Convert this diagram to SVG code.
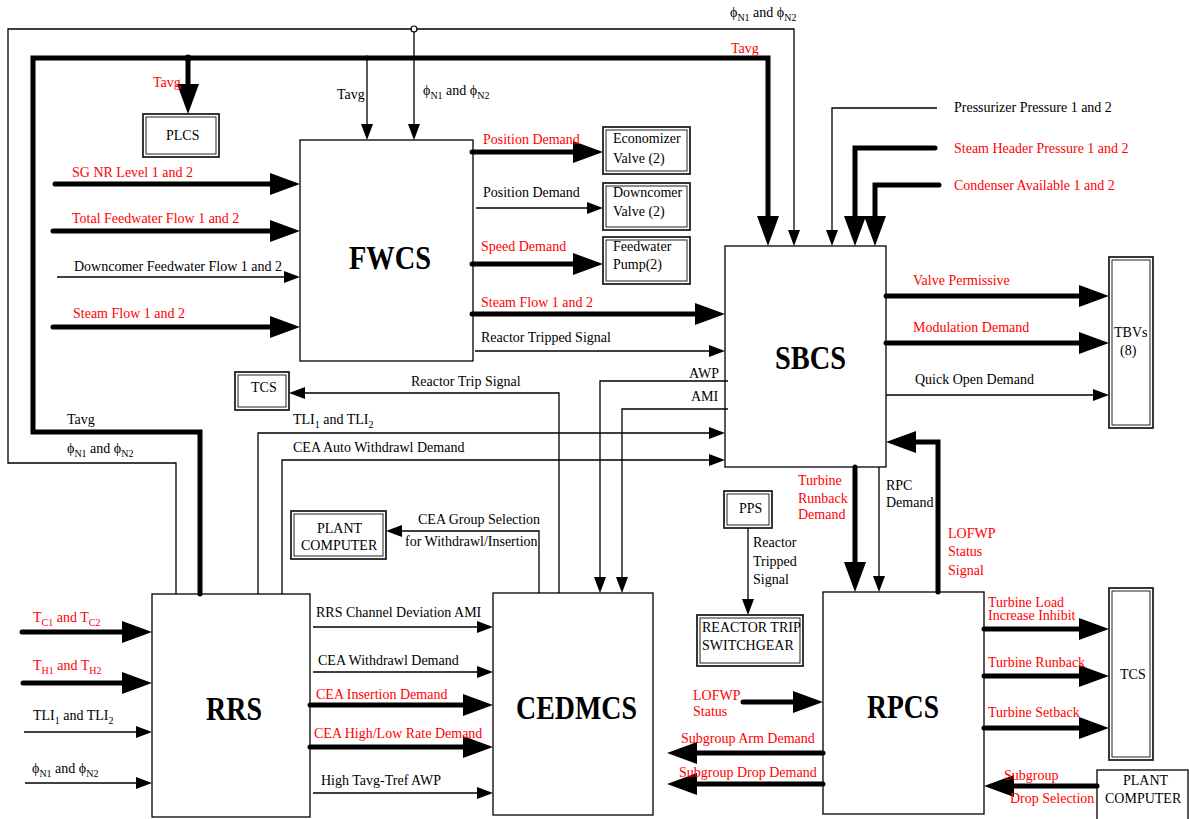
<svg xmlns="http://www.w3.org/2000/svg" width="1189" height="819" viewBox="0 0 1189 819">
<style>
.t{font-family:"Liberation Serif","Times New Roman",serif;font-size:14px;fill:#000}
.r{fill:#f00}
.big{font-family:"Liberation Serif","Times New Roman",serif;font-size:33px;font-weight:bold;fill:#000}
.s{font-size:10px}
.box{fill:#fff;stroke:#000;stroke-width:1.3}
.dbo{fill:#fff;stroke:#222;stroke-width:1.8}
.dbi{fill:none;stroke:#222;stroke-width:1}
.thin{fill:none;stroke:#000;stroke-width:1.3}
.thick{fill:none;stroke:#000;stroke-width:5;stroke-linecap:round}
</style>
<defs>
<marker id="ak" markerUnits="userSpaceOnUse" markerWidth="30" markerHeight="22" refX="12" refY="11" orient="auto" overflow="visible"><path d="M0,0 L30,11 L0,22 z" fill="#000"/></marker>
<marker id="an" markerUnits="userSpaceOnUse" markerWidth="16" markerHeight="12" refX="12" refY="6" orient="auto" overflow="visible"><path d="M0,0 L16,6 L0,12 z" fill="#000"/></marker>
</defs>
<rect width="1189" height="819" fill="#fff"/>

<g id="FWCS"><rect class="box" x="300" y="140" width="173" height="221"/><text class="big" x="349" y="269" textLength="82" lengthAdjust="spacingAndGlyphs">FWCS</text></g>
<g id="SBCS"><rect class="box" x="725" y="246" width="161" height="221"/><text class="big" x="775" y="369" textLength="71" lengthAdjust="spacingAndGlyphs">SBCS</text></g>
<g id="RRS"><rect class="box" x="152" y="594" width="158" height="223"/><text class="big" x="206" y="720" textLength="56" lengthAdjust="spacingAndGlyphs">RRS</text></g>
<g id="CEDMCS"><rect class="box" x="493" y="593" width="160" height="222"/><text class="big" x="516" y="719" textLength="121" lengthAdjust="spacingAndGlyphs">CEDMCS</text></g>
<g id="RPCS"><rect class="box" x="823" y="592" width="161" height="222"/><text class="big" x="867" y="718" textLength="72" lengthAdjust="spacingAndGlyphs">RPCS</text></g>

<g id="PLCS"><rect class="dbo" x="143" y="114" width="76" height="43"/><rect class="dbi" x="146" y="117" width="70" height="37"/><text class="t" x="166" y="140">PLCS</text></g>
<g id="EconomizerValve"><rect class="dbo" x="603" y="127" width="87" height="47"/><rect class="dbi" x="606" y="130" width="81" height="41"/><text class="t" x="613" y="143">Economizer</text><text class="t" x="613" y="163">Valve (2)</text></g>
<g id="DowncomerValve"><rect class="dbo" x="603" y="183" width="87" height="47"/><rect class="dbi" x="606" y="186" width="81" height="41"/><text class="t" x="613" y="197">Downcomer</text><text class="t" x="613" y="216">Valve (2)</text></g>
<g id="FeedwaterPump"><rect class="dbo" x="603" y="237" width="87" height="47"/><rect class="dbi" x="606" y="240" width="81" height="41"/><text class="t" x="613" y="251">Feedwater</text><text class="t" x="613" y="269">Pump(2)</text></g>
<g id="TCS1"><rect class="dbo" x="235" y="372" width="54" height="38"/><rect class="dbi" x="238" y="375" width="48" height="32"/><text class="t" x="251" y="392">TCS</text></g>
<g id="PlantComputer1"><rect class="dbo" x="291" y="511" width="95" height="48"/><rect class="dbi" x="294" y="514" width="89" height="42"/><text class="t" x="317" y="533">PLANT</text><text class="t" x="301" y="550">COMPUTER</text></g>
<g id="PPS"><rect class="dbo" x="724" y="491" width="48" height="37"/><rect class="dbi" x="727" y="494" width="42" height="31"/><text class="t" x="739" y="513">PPS</text></g>
<g id="ReactorTripSwitchgear"><rect class="dbo" x="697" y="615" width="106" height="51"/><rect class="dbi" x="700" y="618" width="100" height="45"/><text class="t" x="702" y="632">REACTOR TRIP</text><text class="t" x="702" y="650">SWITCHGEAR</text></g>
<g id="TBVs"><rect class="dbo" x="1109" y="257" width="44" height="171"/><rect class="dbi" x="1112" y="260" width="38" height="165"/><text class="t" x="1114" y="337">TBVs</text><text class="t" x="1120" y="355">(8)</text></g>
<g id="TCS2"><rect class="dbo" x="1109" y="588" width="44" height="172"/><rect class="dbi" x="1112" y="591" width="38" height="166"/><text class="t" x="1120" y="679">TCS</text></g>
<g id="PlantComputer2"><rect class="box" x="1097" y="770" width="91" height="60"/><text class="t" x="1123" y="785">PLANT</text><text class="t" x="1105" y="803">COMPUTER</text></g>

<g id="connectors">
<path class="thin" d="M176,594 V463 H8 V29 H794 V242" marker-end="url(#an)"/>
<path class="thin" d="M414,29 V136" marker-end="url(#an)"/>
<circle cx="414" cy="29" r="3" fill="#fff" stroke="#000" stroke-width="1.2"/>
<path class="thick" d="M200,594 V432 H33 V58 H768 V228" marker-end="url(#ak)" stroke-linejoin="miter"/>
<path class="thick" d="M188,58 V96" marker-end="url(#ak)"/>
<circle cx="188" cy="58" r="3.5" fill="#000"/>
<path class="thin" d="M367,58 V136" marker-end="url(#an)"/>
<circle cx="367" cy="58" r="2.5" fill="#000"/>

<path class="thin" d="M937,108 H832 V242" marker-end="url(#an)"/>
<path class="thick" d="M935,148 H855 V228" marker-end="url(#ak)"/>
<path class="thick" d="M939,185 H875 V228" marker-end="url(#ak)"/>

<path class="thick" d="M886,296 H1091" marker-end="url(#ak)"/>
<path class="thick" d="M886,343 H1091" marker-end="url(#ak)"/>
<path class="thin" d="M886,395 H1105" marker-end="url(#an)"/>

<path class="thick" d="M938,592 V442 H904" marker-end="url(#ak)"/>
<path class="thick" d="M855,467 V574" marker-end="url(#ak)"/>
<path class="thin" d="M879,467 V588" marker-end="url(#an)"/>

<path class="thick" d="M55,184 H282" marker-end="url(#ak)"/>
<path class="thick" d="M53,231 H282" marker-end="url(#ak)"/>
<path class="thin" d="M57,277 H296" marker-end="url(#an)"/>
<path class="thick" d="M53,327 H282" marker-end="url(#ak)"/>

<path class="thick" d="M472,152 H585" marker-end="url(#ak)"/>
<path class="thin" d="M476,208 H599" marker-end="url(#an)"/>
<path class="thick" d="M472,264 H585" marker-end="url(#ak)"/>
<path class="thick" d="M472,314 H707" marker-end="url(#ak)"/>
<path class="thin" d="M475,351 H721" marker-end="url(#an)"/>

<path class="thin" d="M559,593 V393 H293" marker-end="url(#an)"/>
<path class="thin" d="M728,381 H600 V589" marker-end="url(#an)"/>
<path class="thin" d="M728,409 H622 V589" marker-end="url(#an)"/>
<path class="thin" d="M258,594 V433 H721" marker-end="url(#an)"/>
<path class="thin" d="M282,594 V460 H721" marker-end="url(#an)"/>
<path class="thin" d="M539,593 V531 H390" marker-end="url(#an)"/>
<path class="thin" d="M748,528 V611" marker-end="url(#an)"/>

<path class="thick" d="M22,632 H134" marker-end="url(#ak)"/>
<path class="thick" d="M23,683 H134" marker-end="url(#ak)"/>
<path class="thin" d="M24,732 H148" marker-end="url(#an)"/>
<path class="thin" d="M25,783 H148" marker-end="url(#an)"/>

<path class="thin" d="M313,627 H489" marker-end="url(#an)"/>
<path class="thin" d="M313,672 H489" marker-end="url(#an)"/>
<path class="thick" d="M310,705 H475" marker-end="url(#ak)"/>
<path class="thick" d="M310,747 H475" marker-end="url(#ak)"/>
<path class="thin" d="M313,793 H489" marker-end="url(#an)"/>

<path class="thick" d="M743,702 H805" marker-end="url(#ak)"/>
<path class="thick" d="M823,753 H685" marker-end="url(#ak)"/>
<path class="thick" d="M823,784 H685" marker-end="url(#ak)"/>

<path class="thick" d="M984,629 H1091" marker-end="url(#ak)"/>
<path class="thick" d="M984,676 H1091" marker-end="url(#ak)"/>
<path class="thick" d="M984,728 H1091" marker-end="url(#ak)"/>
<path class="thick" d="M1097,786 H1002" marker-end="url(#ak)"/>
</g>

<g id="labels">
<text class="t" x="730" y="17">ϕ<tspan class="s" dy="4">N1</tspan><tspan dy="-4"> and ϕ</tspan><tspan class="s" dy="4">N2</tspan></text>
<text class="t r" x="731" y="53">Tavg</text>
<text class="t r" x="153" y="87">Tavg</text>
<text class="t" x="337" y="99">Tavg</text>
<text class="t" x="423" y="95">ϕ<tspan class="s" dy="4">N1</tspan><tspan dy="-4"> and ϕ</tspan><tspan class="s" dy="4">N2</tspan></text>
<text class="t" x="954" y="112">Pressurizer Pressure 1 and 2</text>
<text class="t r" x="954" y="153">Steam Header Pressure 1 and 2</text>
<text class="t r" x="954" y="190">Condenser Available 1 and 2</text>
<text class="t r" x="72" y="177">SG NR Level 1 and 2</text>
<text class="t r" x="72" y="223">Total Feedwater Flow 1 and 2</text>
<text class="t" x="74" y="271">Downcomer Feedwater Flow 1 and 2</text>
<text class="t r" x="73" y="318">Steam Flow 1 and 2</text>
<text class="t r" x="483" y="144">Position Demand</text>
<text class="t" x="483" y="197">Position Demand</text>
<text class="t r" x="481" y="251">Speed Demand</text>
<text class="t r" x="481" y="307">Steam Flow 1 and 2</text>
<text class="t" x="481" y="342">Reactor Tripped Signal</text>
<text class="t" x="411" y="386">Reactor Trip Signal</text>
<text class="t" x="689" y="378">AWP</text>
<text class="t" x="691" y="401">AMI</text>
<text class="t" x="67" y="424">Tavg</text>
<text class="t" x="67" y="453">ϕ<tspan class="s" dy="4">N1</tspan><tspan dy="-4"> and ϕ</tspan><tspan class="s" dy="4">N2</tspan></text>
<text class="t" x="293" y="424">TLI<tspan class="s" dy="4">1</tspan><tspan dy="-4"> and TLI</tspan><tspan class="s" dy="4">2</tspan></text>
<text class="t" x="293" y="452">CEA Auto Withdrawl Demand</text>
<text class="t" x="418" y="524">CEA Group Selection</text>
<text class="t" x="405" y="546">for Withdrawl/Insertion</text>
<text class="t r" x="913" y="285">Valve Permissive</text>
<text class="t r" x="913" y="332">Modulation Demand</text>
<text class="t" x="915" y="384">Quick Open Demand</text>
<text class="t r" x="798" y="485">Turbine</text>
<text class="t r" x="798" y="503">Runback</text>
<text class="t r" x="798" y="519">Demand</text>
<text class="t" x="886" y="490">RPC</text>
<text class="t" x="886" y="507">Demand</text>
<text class="t r" x="948" y="538">LOFWP</text>
<text class="t r" x="948" y="556">Status</text>
<text class="t r" x="948" y="575">Signal</text>
<text class="t" x="753" y="547">Reactor</text>
<text class="t" x="753" y="566">Tripped</text>
<text class="t" x="753" y="584">Signal</text>
<text class="t r" x="33" y="622">T<tspan class="s" dy="4">C1</tspan><tspan dy="-4"> and T</tspan><tspan class="s" dy="4">C2</tspan></text>
<text class="t r" x="33" y="670">T<tspan class="s" dy="4">H1</tspan><tspan dy="-4"> and T</tspan><tspan class="s" dy="4">H2</tspan></text>
<text class="t" x="33" y="720">TLI<tspan class="s" dy="4">1</tspan><tspan dy="-4"> and TLI</tspan><tspan class="s" dy="4">2</tspan></text>
<text class="t" x="32" y="773">ϕ<tspan class="s" dy="4">N1</tspan><tspan dy="-4"> and ϕ</tspan><tspan class="s" dy="4">N2</tspan></text>
<text class="t" x="316" y="617">RRS Channel Deviation AMI</text>
<text class="t" x="318" y="665">CEA Withdrawl Demand</text>
<text class="t r" x="316" y="699">CEA Insertion Demand</text>
<text class="t r" x="314" y="738">CEA High/Low Rate Demand</text>
<text class="t" x="321" y="785">High Tavg-Tref AWP</text>
<text class="t r" x="693" y="700">LOFWP</text>
<text class="t r" x="693" y="716">Status</text>
<text class="t r" x="681" y="743">Subgroup Arm Demand</text>
<text class="t r" x="679" y="777">Subgroup Drop Demand</text>
<text class="t r" x="988" y="607">Turbine Load</text>
<text class="t r" x="988" y="620">Increase Inhibit</text>
<text class="t r" x="988" y="667">Turbine Runback</text>
<text class="t r" x="988" y="717">Turbine Setback</text>
<text class="t r" x="1004" y="780">Subgroup</text>
<text class="t r" x="1010" y="803">Drop Selection</text>
</g>
</svg>
